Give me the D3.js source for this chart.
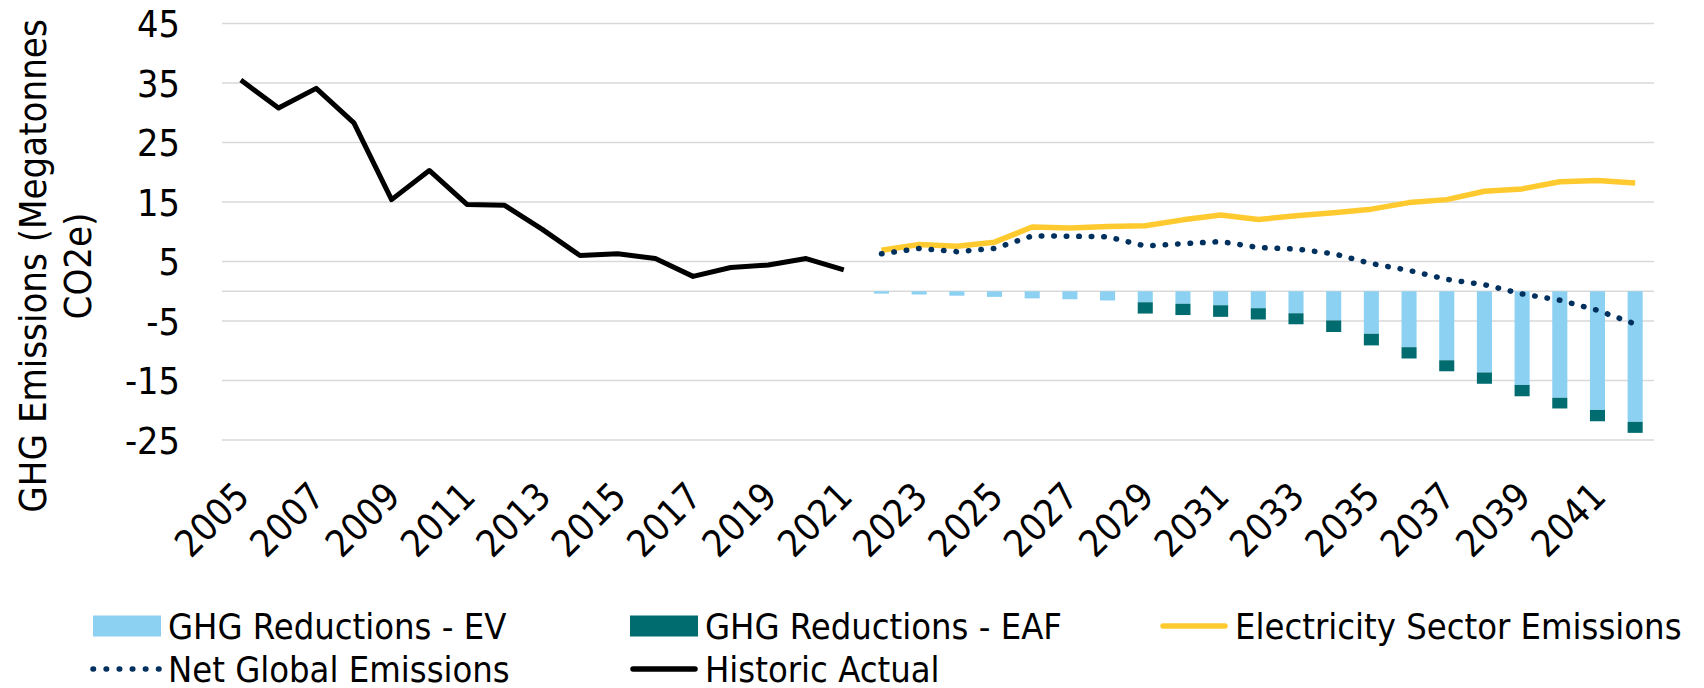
<!DOCTYPE html>
<meta charset="utf-8">
<style>
body { margin: 0; background: #fff; }
svg text {
    font-family: "DejaVu Sans Condensed", "DejaVu Sans", sans-serif;
    font-stretch: condensed;
    fill: #000;
}
</style>
<script src="https://cdn.jsdelivr.net/npm/d3@7"></script>
<svg id="chart" width="1704" height="688"></svg>
<script>
// categories
var years = [2005, 2006, 2007, 2008, 2009, 2010, 2011, 2012, 2013, 2014, 2015, 2016, 2017, 2018, 2019,
             2020, 2021, 2022, 2023, 2024, 2025, 2026, 2027, 2028, 2029, 2030, 2031, 2032, 2033, 2034,
             2035, 2036, 2037, 2038, 2039, 2040, 2041, 2042];
var historicYears = years.slice(0, 17);   // 2005-2021
var projYears = years.slice(17);          // 2022-2042

// series values (Mt CO2e)
var historic = [35.5, 30.8, 34.1, 28.3, 15.4, 20.3, 14.6, 14.45, 10.4, 6.0, 6.3, 5.5, 2.5, 4.0, 4.4, 5.5, 3.6];
var electricity = [6.9, 7.85, 7.55, 8.25, 10.8, 10.65, 10.9, 11.0, 12.0, 12.8, 12.05, 12.7, 13.2, 13.8,
                   14.9, 15.4, 16.8, 17.2, 18.4, 18.6, 18.2];
var netGlobal = [6.3, 7.2, 6.65, 7.2, 9.3, 9.25, 9.15, 7.6, 8.0, 8.35, 7.35, 7.1, 6.3, 4.65,
                 3.5, 2.0, 1.1, -0.45, -1.5, -3.2, -5.5];
var reductionsEV = [-0.4, -0.55, -0.75, -0.95, -1.2, -1.35, -1.55, -1.85, -2.1, -2.35, -2.85, -3.7, -4.9, -7.15,
                    -9.4, -11.6, -13.65, -15.75, -17.9, -19.95, -21.95];
var reductionsEAF = [0, 0, 0, 0, 0, 0, 0, -1.9, -1.9, -1.95, -1.9, -1.85, -1.95, -1.95,
                     -1.9, -1.85, -1.9, -1.9, -1.8, -1.9, -1.85];

// tick labels
var yTicks = [45, 35, 25, 15, 5, -5, -15, -25];
var xTickYears = years.filter(function(y, i) { return i % 2 === 0; });

var colors = {
    ev: "#8DD1F2",
    eaf: "#006C70",
    electricity: "#FFCA30",
    net: "#00305E",
    historic: "#000000",
    grid: "#D9D9D9"
};

var svg = d3.select("#chart");
var fontSize = 37.5;
var legendFontSize = 36;

var x = d3.scaleBand()
    .domain(years)
    .range([222, 1654])
    .paddingInner(0.6)
    .paddingOuter(0.3);

var y = d3.scaleLinear()
    .domain([-25, 45])
    .range([440, 23.5]);

function cx(year) { return x(year) + x.bandwidth() / 2; }

// gridlines
svg.append("g")
    .selectAll("line")
    .data(yTicks.concat([0]))
    .join("line")
    .attr("x1", 222)
    .attr("x2", 1654)
    .attr("y1", function(d) { return y(d); })
    .attr("y2", function(d) { return y(d); })
    .attr("stroke", colors.grid)
    .attr("stroke-width", 1.6);

// y tick labels
svg.append("g")
    .selectAll("text")
    .data(yTicks)
    .join("text")
    .attr("x", 180)
    .attr("y", function(d) { return y(d); })
    .attr("dy", "0.36em")
    .attr("text-anchor", "end")
    .style("font-size", fontSize + "px")
    .text(function(d) { return d; });

// x tick labels (rotated)
svg.append("g")
    .selectAll("text")
    .data(xTickYears)
    .join("text")
    .attr("transform", function(d) { return "translate(" + (cx(d) + 1) + ",489) rotate(-45)"; })
    .attr("dy", "0.36em")
    .attr("text-anchor", "end")
    .style("font-size", fontSize + "px")
    .text(function(d) { return d; });

// y axis title
var title = svg.append("text")
    .attr("transform", "translate(32,266) rotate(-90)")
    .attr("text-anchor", "middle")
    .style("font-size", "38px");
title.append("tspan").attr("x", 0).attr("dy", "0.36em").text("GHG Emissions (Megatonnes");
title.append("tspan").attr("x", 0).attr("dy", "1.2em").text("CO2e)");

// stacked bars
var barData = projYears.map(function(yr, i) {
    return { year: yr, ev: reductionsEV[i], eaf: reductionsEAF[i] };
});

svg.append("g")
    .selectAll("rect")
    .data(barData)
    .join("rect")
    .attr("x", function(d) { return x(d.year); })
    .attr("width", x.bandwidth())
    .attr("y", y(0))
    .attr("height", function(d) { return y(d.ev) - y(0); })
    .attr("fill", colors.ev);

svg.append("g")
    .selectAll("rect")
    .data(barData.filter(function(d) { return d.eaf < 0; }))
    .join("rect")
    .attr("x", function(d) { return x(d.year); })
    .attr("width", x.bandwidth())
    .attr("y", function(d) { return y(d.ev); })
    .attr("height", function(d) { return y(d.ev + d.eaf) - y(d.ev); })
    .attr("fill", colors.eaf);

// lines
var line = d3.line()
    .x(function(d) { return cx(d[0]); })
    .y(function(d) { return y(d[1]); });

svg.append("path")
    .datum(d3.zip(projYears, electricity))
    .attr("d", line)
    .attr("fill", "none")
    .attr("stroke", colors.electricity)
    .attr("stroke-width", 5.5)
    .attr("stroke-linejoin", "round");

svg.append("path")
    .datum(d3.zip(projYears, netGlobal))
    .attr("d", line)
    .attr("fill", "none")
    .attr("stroke", colors.net)
    .attr("stroke-width", 5.5)
    .attr("stroke-linecap", "round")
    .attr("stroke-dasharray", "0.5 12");

svg.append("path")
    .datum(d3.zip(historicYears, historic))
    .attr("d", line)
    .attr("fill", "none")
    .attr("stroke", colors.historic)
    .attr("stroke-width", 5)
    .attr("stroke-linejoin", "round");

// legend
var legendItems = [
    { label: "GHG Reductions - EV", type: "rect", color: colors.ev, x: 93, y: 626 },
    { label: "GHG Reductions - EAF", type: "rect", color: colors.eaf, x: 630, y: 626 },
    { label: "Electricity Sector Emissions", type: "line", color: colors.electricity, x: 1160, y: 626 },
    { label: "Net Global Emissions", type: "dots", color: colors.net, x: 93, y: 669 },
    { label: "Historic Actual", type: "line", color: colors.historic, x: 630, y: 669 }
];

var legend = svg.append("g")
    .selectAll("g")
    .data(legendItems)
    .join("g")
    .attr("transform", function(d) { return "translate(" + d.x + "," + d.y + ")"; });

legend.filter(function(d) { return d.type === "rect"; })
    .append("rect")
    .attr("x", 0).attr("y", -10.5)
    .attr("width", 68).attr("height", 21)
    .attr("fill", function(d) { return d.color; });

legend.filter(function(d) { return d.type === "line"; })
    .append("line")
    .attr("x1", 3).attr("x2", 65)
    .attr("stroke", function(d) { return d.color; })
    .attr("stroke-width", 5.5)
    .attr("stroke-linecap", "round");

legend.filter(function(d) { return d.type === "dots"; })
    .append("line")
    .attr("x1", 0).attr("x2", 66)
    .attr("stroke", function(d) { return d.color; })
    .attr("stroke-width", 5.5)
    .attr("stroke-linecap", "round")
    .attr("stroke-dasharray", "0.5 12.6");

legend.append("text")
    .attr("x", 75)
    .attr("dy", "0.36em")
    .style("font-size", legendFontSize + "px")
    .text(function(d) { return d.label; });
</script>
